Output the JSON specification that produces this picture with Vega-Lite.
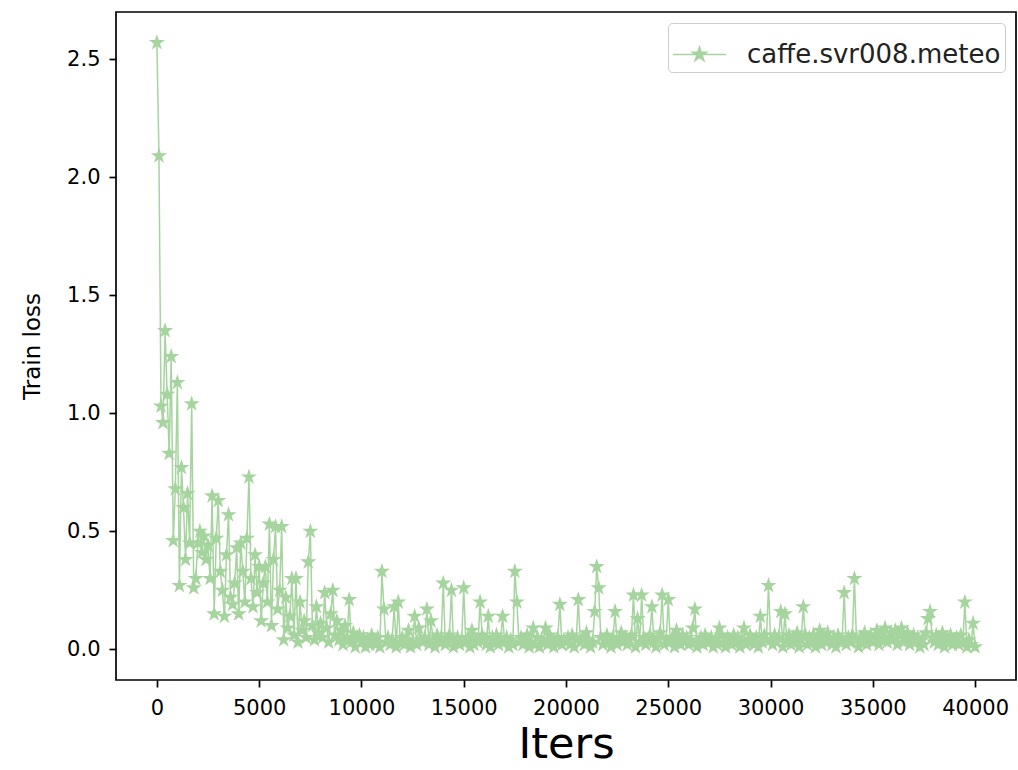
{
  "$schema": "https://vega.github.io/schema/vega-lite/v6.json",
  "width": 900,
  "height": 668,
  "autosize": {"type": "none"},
  "padding": {"left": 116, "top": 12, "right": 2, "bottom": 90},
  "background": "white",
  "config": {
    "font": "DejaVu Sans",
    "view": {"stroke": "black", "strokeWidth": 1.7},
    "axis": {"grid": false, "domain": false, "tickColor": "black", "tickSize": 7, "tickWidth": 1.7, "labelColor": "black", "labelFont": "DejaVu Sans", "labelFontSize": 21, "labelPadding": 9, "titleColor": "black", "titleFont": "DejaVu Sans", "titleFontWeight": "normal"}
  },
  "data": {"values": [
{"iter":0,"loss":2.57},{"iter":100,"loss":2.09},{"iter":200,"loss":1.03},{"iter":300,"loss":0.96},{"iter":400,"loss":1.35},{"iter":500,"loss":1.08},{"iter":600,"loss":0.83},{"iter":700,"loss":1.24},{"iter":800,"loss":0.46},{"iter":900,"loss":0.68},
{"iter":1000,"loss":1.13},{"iter":1100,"loss":0.27},{"iter":1200,"loss":0.77},{"iter":1300,"loss":0.60},{"iter":1400,"loss":0.38},{"iter":1500,"loss":0.66},{"iter":1600,"loss":0.45},{"iter":1700,"loss":1.04},{"iter":1800,"loss":0.26},{"iter":1900,"loss":0.30},
{"iter":2000,"loss":0.45},{"iter":2100,"loss":0.50},{"iter":2200,"loss":0.41},{"iter":2300,"loss":0.48},{"iter":2400,"loss":0.38},{"iter":2500,"loss":0.44},{"iter":2600,"loss":0.30},{"iter":2700,"loss":0.65},{"iter":2800,"loss":0.15},{"iter":2900,"loss":0.47},
{"iter":3000,"loss":0.63},{"iter":3100,"loss":0.33},{"iter":3200,"loss":0.25},{"iter":3300,"loss":0.14},{"iter":3400,"loss":0.40},{"iter":3500,"loss":0.57},{"iter":3600,"loss":0.22},{"iter":3700,"loss":0.19},{"iter":3800,"loss":0.28},{"iter":3900,"loss":0.43},
{"iter":4000,"loss":0.15},{"iter":4100,"loss":0.45},{"iter":4200,"loss":0.33},{"iter":4300,"loss":0.20},{"iter":4400,"loss":0.47},{"iter":4500,"loss":0.73},{"iter":4600,"loss":0.30},{"iter":4700,"loss":0.18},{"iter":4800,"loss":0.40},{"iter":4900,"loss":0.24},
{"iter":5000,"loss":0.35},{"iter":5100,"loss":0.12},{"iter":5200,"loss":0.28},{"iter":5300,"loss":0.35},{"iter":5400,"loss":0.20},{"iter":5500,"loss":0.53},{"iter":5600,"loss":0.10},{"iter":5700,"loss":0.38},{"iter":5800,"loss":0.52},{"iter":5900,"loss":0.17},
{"iter":6000,"loss":0.25},{"iter":6100,"loss":0.52},{"iter":6200,"loss":0.04},{"iter":6300,"loss":0.22},{"iter":6400,"loss":0.09},{"iter":6500,"loss":0.14},{"iter":6600,"loss":0.30},{"iter":6700,"loss":0.06},{"iter":6800,"loss":0.30},{"iter":6900,"loss":0.03},
{"iter":7000,"loss":0.20},{"iter":7100,"loss":0.08},{"iter":7200,"loss":0.12},{"iter":7300,"loss":0.05},{"iter":7400,"loss":0.37},{"iter":7500,"loss":0.50},{"iter":7600,"loss":0.10},{"iter":7700,"loss":0.04},{"iter":7800,"loss":0.18},{"iter":7900,"loss":0.07},
{"iter":8000,"loss":0.11},{"iter":8100,"loss":0.05},{"iter":8200,"loss":0.24},{"iter":8300,"loss":0.09},{"iter":8400,"loss":0.03},{"iter":8500,"loss":0.15},{"iter":8600,"loss":0.25},{"iter":8700,"loss":0.06},{"iter":8800,"loss":0.12},{"iter":8900,"loss":0.04},
{"iter":9000,"loss":0.08},{"iter":9100,"loss":0.02},{"iter":9200,"loss":0.10},{"iter":9300,"loss":0.05},{"iter":9400,"loss":0.21},{"iter":9500,"loss":0.03},{"iter":9600,"loss":0.07},{"iter":9700,"loss":0.01},{"iter":9800,"loss":0.04},{"iter":9900,"loss":0.06},
{"iter":10000,"loss":0.03},{"iter":10100,"loss":0.05},{"iter":10200,"loss":0.01},{"iter":10300,"loss":0.04},{"iter":10400,"loss":0.02},{"iter":10500,"loss":0.06},{"iter":10600,"loss":0.03},{"iter":10700,"loss":0.02},{"iter":10800,"loss":0.05},{"iter":10900,"loss":0.01},
{"iter":11000,"loss":0.33},{"iter":11100,"loss":0.17},{"iter":11200,"loss":0.03},{"iter":11300,"loss":0.05},{"iter":11400,"loss":0.02},{"iter":11500,"loss":0.04},{"iter":11600,"loss":0.18},{"iter":11700,"loss":0.01},{"iter":11800,"loss":0.20},{"iter":11900,"loss":0.03},
{"iter":12000,"loss":0.05},{"iter":12100,"loss":0.02},{"iter":12200,"loss":0.04},{"iter":12300,"loss":0.08},{"iter":12400,"loss":0.01},{"iter":12500,"loss":0.03},{"iter":12600,"loss":0.14},{"iter":12700,"loss":0.02},{"iter":12800,"loss":0.09},{"iter":12900,"loss":0.04},
{"iter":13000,"loss":0.03},{"iter":13100,"loss":0.05},{"iter":13200,"loss":0.17},{"iter":13300,"loss":0.02},{"iter":13400,"loss":0.12},{"iter":13500,"loss":0.04},{"iter":13600,"loss":0.01},{"iter":13700,"loss":0.06},{"iter":13800,"loss":0.03},{"iter":13900,"loss":0.05},
{"iter":14000,"loss":0.28},{"iter":14100,"loss":0.02},{"iter":14200,"loss":0.04},{"iter":14300,"loss":0.06},{"iter":14400,"loss":0.25},{"iter":14500,"loss":0.01},{"iter":14600,"loss":0.03},{"iter":14700,"loss":0.05},{"iter":14800,"loss":0.02},{"iter":14900,"loss":0.04},
{"iter":15000,"loss":0.26},{"iter":15100,"loss":0.03},{"iter":15200,"loss":0.05},{"iter":15300,"loss":0.01},{"iter":15400,"loss":0.08},{"iter":15500,"loss":0.02},{"iter":15600,"loss":0.04},{"iter":15700,"loss":0.03},{"iter":15800,"loss":0.20},{"iter":15900,"loss":0.06},
{"iter":16000,"loss":0.04},{"iter":16100,"loss":0.02},{"iter":16200,"loss":0.14},{"iter":16300,"loss":0.01},{"iter":16400,"loss":0.05},{"iter":16500,"loss":0.03},{"iter":16600,"loss":0.06},{"iter":16700,"loss":0.02},{"iter":16800,"loss":0.04},{"iter":16900,"loss":0.14},
{"iter":17000,"loss":0.03},{"iter":17100,"loss":0.05},{"iter":17200,"loss":0.01},{"iter":17300,"loss":0.04},{"iter":17400,"loss":0.02},{"iter":17500,"loss":0.33},{"iter":17600,"loss":0.20},{"iter":17700,"loss":0.03},{"iter":17800,"loss":0.05},{"iter":17900,"loss":0.02},
{"iter":18000,"loss":0.04},{"iter":18100,"loss":0.06},{"iter":18200,"loss":0.01},{"iter":18300,"loss":0.03},{"iter":18400,"loss":0.09},{"iter":18500,"loss":0.02},{"iter":18600,"loss":0.05},{"iter":18700,"loss":0.01},{"iter":18800,"loss":0.04},{"iter":18900,"loss":0.03},
{"iter":19000,"loss":0.09},{"iter":19100,"loss":0.02},{"iter":19200,"loss":0.06},{"iter":19300,"loss":0.04},{"iter":19400,"loss":0.01},{"iter":19500,"loss":0.03},{"iter":19600,"loss":0.05},{"iter":19700,"loss":0.19},{"iter":19800,"loss":0.02},{"iter":19900,"loss":0.04},
{"iter":20000,"loss":0.03},{"iter":20100,"loss":0.05},{"iter":20200,"loss":0.02},{"iter":20300,"loss":0.06},{"iter":20400,"loss":0.01},{"iter":20500,"loss":0.04},{"iter":20600,"loss":0.21},{"iter":20700,"loss":0.03},{"iter":20800,"loss":0.05},{"iter":20900,"loss":0.02},
{"iter":21000,"loss":0.07},{"iter":21100,"loss":0.04},{"iter":21200,"loss":0.01},{"iter":21300,"loss":0.03},{"iter":21400,"loss":0.16},{"iter":21500,"loss":0.35},{"iter":21600,"loss":0.26},{"iter":21700,"loss":0.05},{"iter":21800,"loss":0.02},{"iter":21900,"loss":0.04},
{"iter":22000,"loss":0.06},{"iter":22100,"loss":0.03},{"iter":22200,"loss":0.01},{"iter":22300,"loss":0.05},{"iter":22400,"loss":0.16},{"iter":22500,"loss":0.02},{"iter":22600,"loss":0.04},{"iter":22700,"loss":0.07},{"iter":22800,"loss":0.03},{"iter":22900,"loss":0.05},
{"iter":23000,"loss":0.02},{"iter":23100,"loss":0.04},{"iter":23200,"loss":0.06},{"iter":23300,"loss":0.23},{"iter":23400,"loss":0.01},{"iter":23500,"loss":0.13},{"iter":23600,"loss":0.03},{"iter":23700,"loss":0.23},{"iter":23800,"loss":0.05},{"iter":23900,"loss":0.02},
{"iter":24000,"loss":0.04},{"iter":24100,"loss":0.06},{"iter":24200,"loss":0.18},{"iter":24300,"loss":0.03},{"iter":24400,"loss":0.01},{"iter":24500,"loss":0.05},{"iter":24600,"loss":0.07},{"iter":24700,"loss":0.23},{"iter":24800,"loss":0.02},{"iter":24900,"loss":0.04},
{"iter":25000,"loss":0.21},{"iter":25100,"loss":0.03},{"iter":25200,"loss":0.05},{"iter":25300,"loss":0.01},{"iter":25400,"loss":0.08},{"iter":25500,"loss":0.04},{"iter":25600,"loss":0.02},{"iter":25700,"loss":0.06},{"iter":25800,"loss":0.03},{"iter":25900,"loss":0.05},
{"iter":26000,"loss":0.02},{"iter":26100,"loss":0.04},{"iter":26200,"loss":0.09},{"iter":26300,"loss":0.17},{"iter":26400,"loss":0.01},{"iter":26500,"loss":0.03},{"iter":26600,"loss":0.05},{"iter":26700,"loss":0.02},{"iter":26800,"loss":0.06},{"iter":26900,"loss":0.04},
{"iter":27000,"loss":0.03},{"iter":27100,"loss":0.05},{"iter":27200,"loss":0.01},{"iter":27300,"loss":0.04},{"iter":27400,"loss":0.02},{"iter":27500,"loss":0.09},{"iter":27600,"loss":0.06},{"iter":27700,"loss":0.03},{"iter":27800,"loss":0.01},{"iter":27900,"loss":0.05},
{"iter":28000,"loss":0.04},{"iter":28100,"loss":0.02},{"iter":28200,"loss":0.06},{"iter":28300,"loss":0.03},{"iter":28400,"loss":0.05},{"iter":28500,"loss":0.01},{"iter":28600,"loss":0.04},{"iter":28700,"loss":0.09},{"iter":28800,"loss":0.02},{"iter":28900,"loss":0.03},
{"iter":29000,"loss":0.06},{"iter":29100,"loss":0.04},{"iter":29200,"loss":0.02},{"iter":29300,"loss":0.05},{"iter":29400,"loss":0.01},{"iter":29500,"loss":0.14},{"iter":29600,"loss":0.03},{"iter":29700,"loss":0.06},{"iter":29800,"loss":0.04},{"iter":29900,"loss":0.27},
{"iter":30000,"loss":0.04},{"iter":30100,"loss":0.02},{"iter":30200,"loss":0.06},{"iter":30300,"loss":0.03},{"iter":30400,"loss":0.05},{"iter":30500,"loss":0.16},{"iter":30600,"loss":0.01},{"iter":30700,"loss":0.15},{"iter":30800,"loss":0.04},{"iter":30900,"loss":0.06},
{"iter":31000,"loss":0.02},{"iter":31100,"loss":0.05},{"iter":31200,"loss":0.03},{"iter":31300,"loss":0.07},{"iter":31400,"loss":0.01},{"iter":31500,"loss":0.04},{"iter":31600,"loss":0.18},{"iter":31700,"loss":0.06},{"iter":31800,"loss":0.02},{"iter":31900,"loss":0.05},
{"iter":32000,"loss":0.03},{"iter":32100,"loss":0.06},{"iter":32200,"loss":0.01},{"iter":32300,"loss":0.04},{"iter":32400,"loss":0.08},{"iter":32500,"loss":0.02},{"iter":32600,"loss":0.05},{"iter":32700,"loss":0.03},{"iter":32800,"loss":0.07},{"iter":32900,"loss":0.04},
{"iter":33000,"loss":0.02},{"iter":33100,"loss":0.05},{"iter":33200,"loss":0.01},{"iter":33300,"loss":0.06},{"iter":33400,"loss":0.03},{"iter":33500,"loss":0.04},{"iter":33600,"loss":0.24},{"iter":33700,"loss":0.02},{"iter":33800,"loss":0.05},{"iter":33900,"loss":0.03},
{"iter":34000,"loss":0.06},{"iter":34100,"loss":0.30},{"iter":34200,"loss":0.04},{"iter":34300,"loss":0.01},{"iter":34400,"loss":0.05},{"iter":34500,"loss":0.03},{"iter":34600,"loss":0.07},{"iter":34700,"loss":0.02},{"iter":34800,"loss":0.04},{"iter":34900,"loss":0.06},
{"iter":35000,"loss":0.03},{"iter":35100,"loss":0.05},{"iter":35200,"loss":0.08},{"iter":35300,"loss":0.02},{"iter":35400,"loss":0.06},{"iter":35500,"loss":0.04},{"iter":35600,"loss":0.09},{"iter":35700,"loss":0.03},{"iter":35800,"loss":0.05},{"iter":35900,"loss":0.07},
{"iter":36000,"loss":0.04},{"iter":36100,"loss":0.08},{"iter":36200,"loss":0.02},{"iter":36300,"loss":0.06},{"iter":36400,"loss":0.09},{"iter":36500,"loss":0.03},{"iter":36600,"loss":0.05},{"iter":36700,"loss":0.07},{"iter":36800,"loss":0.02},{"iter":36900,"loss":0.04},
{"iter":37000,"loss":0.06},{"iter":37100,"loss":0.03},{"iter":37200,"loss":0.05},{"iter":37300,"loss":0.01},{"iter":37400,"loss":0.04},{"iter":37500,"loss":0.02},{"iter":37600,"loss":0.07},{"iter":37700,"loss":0.13},{"iter":37800,"loss":0.16},{"iter":37900,"loss":0.05},
{"iter":38000,"loss":0.03},{"iter":38100,"loss":0.06},{"iter":38200,"loss":0.02},{"iter":38300,"loss":0.04},{"iter":38400,"loss":0.07},{"iter":38500,"loss":0.01},{"iter":38600,"loss":0.05},{"iter":38700,"loss":0.03},{"iter":38800,"loss":0.06},{"iter":38900,"loss":0.02},
{"iter":39000,"loss":0.04},{"iter":39100,"loss":0.05},{"iter":39200,"loss":0.02},{"iter":39300,"loss":0.06},{"iter":39400,"loss":0.03},{"iter":39500,"loss":0.20},{"iter":39600,"loss":0.01},{"iter":39700,"loss":0.04},{"iter":39800,"loss":0.02},{"iter":39900,"loss":0.11},
{"iter":40000,"loss":0.01}
  ]},
  "encoding": {
    "x": {"field": "iter", "type": "quantitative", "scale": {"domain": [-2000, 42000], "nice": false, "zero": false}, "axis": {"orient": "bottom", "values": [0, 5000, 10000, 15000, 20000, 25000, 30000, 35000, 40000], "format": "d", "title": "Iters", "titleFontSize": 43, "titlePadding": 5, "labelPadding": 10, "labelFlush": false, "labelOverlap": false}},
    "y": {"field": "loss", "type": "quantitative", "scale": {"domain": [-0.13, 2.70], "nice": false, "zero": false}, "axis": {"orient": "left", "values": [0, 0.5, 1, 1.5, 2, 2.5], "format": ".1f", "title": "Train loss", "titleFontSize": 23, "titlePadding": 22}},
    "color": {"datum": "caffe.svr008.meteo", "type": "nominal", "scale": {"range": ["#a6d49e"]}, "legend": {"title": null, "orient": "top-right", "offset": 11, "symbolType": "M-1,0L1,0M0,-0.28L0.0632,-0.0865L0.2663,-0.0865L0.1017,0.033L0.1646,0.2265L0,0.107L-0.1646,0.2265L-0.1017,0.033L-0.2663,-0.0865L-0.0632,-0.0865Z", "symbolSize": 2809, "symbolStrokeWidth": 1.5, "symbolFillColor": "#a6d49e", "symbolStrokeColor": "#a6d49e", "symbolOpacity": 1, "labelFont": "DejaVu Sans", "labelFontSize": 26, "labelLimit": 0, "labelColor": "#222222", "labelOffset": 20, "strokeColor": "#cccccc", "cornerRadius": 4, "padding": 4, "fillColor": "white"}}
  },
  "layer": [
    {"mark": {"type": "line", "strokeWidth": 1.5}},
    {"mark": {"type": "point", "shape": "M0,-1L0.2245,-0.309L0.951,-0.309L0.3633,0.118L0.588,0.809L0,0.382L-0.588,0.809L-0.3633,0.118L-0.951,-0.309L-0.2245,-0.309Z", "filled": true, "opacity": 1, "size": 289}}
  ]
}
